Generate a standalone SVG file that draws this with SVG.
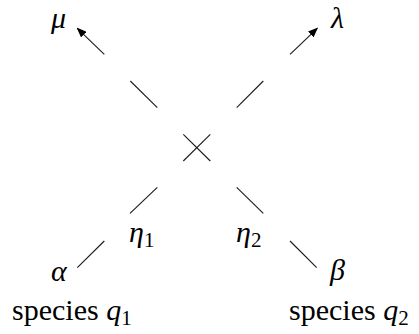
<svg xmlns="http://www.w3.org/2000/svg" width="419" height="334" viewBox="0 0 419 334">
<defs>
<marker id="ah" viewBox="0 0 10 8" refX="9" refY="4" markerWidth="10" markerHeight="8" markerUnits="userSpaceOnUse" orient="auto">
<path d="M0,0 L10,4 L0,8 Z" fill="#000"/>
</marker>
</defs>
<rect width="419" height="334" fill="#fff"/>
<g id="connectors" stroke="#1a1a1a" stroke-width="1.1" fill="none">
<line x1="104.3" y1="54.3" x2="77.3" y2="28.3" marker-end="url(#ah)"/>
<line x1="290" y1="54.3" x2="317.3" y2="28.3" marker-end="url(#ah)"/>
<line x1="130.3" y1="81" x2="157.3" y2="107.7"/>
<line x1="236.7" y1="107.7" x2="263.3" y2="81"/>
<line x1="183.3" y1="134.3" x2="210.3" y2="161"/>
<line x1="183.3" y1="161" x2="210.3" y2="134.3"/>
<line x1="130" y1="213.3" x2="157.3" y2="187.3"/>
<line x1="236.7" y1="187.3" x2="263.3" y2="213.3"/>
<line x1="77.3" y1="267.7" x2="104.3" y2="241"/>
<line x1="290" y1="241" x2="316.7" y2="267.7"/>
</g>
<g font-family="'Liberation Serif', 'DejaVu Serif', serif" font-size="30" fill="#000">
<g id="mu"><text x="51" y="28" font-style="italic">μ</text></g>
<g id="lambda"><text x="331" y="28" font-style="italic">λ</text></g>
<g id="eta1"><text x="129" y="242"><tspan font-style="italic">η</tspan><tspan font-size="21" dy="5">1</tspan></text></g>
<g id="eta2"><text x="236" y="242"><tspan font-style="italic">η</tspan><tspan font-size="21" dy="5">2</tspan></text></g>
<g id="alpha"><text x="51" y="281" font-style="italic">α</text></g>
<g id="beta"><text x="330" y="280" font-style="italic">β</text></g>
<g id="species1"><text x="12" y="320">species <tspan font-style="italic">q</tspan><tspan font-size="21" dy="5">1</tspan></text></g>
<g id="species2"><text x="289" y="320">species <tspan font-style="italic">q</tspan><tspan font-size="21" dy="5">2</tspan></text></g>
</g>
</svg>
